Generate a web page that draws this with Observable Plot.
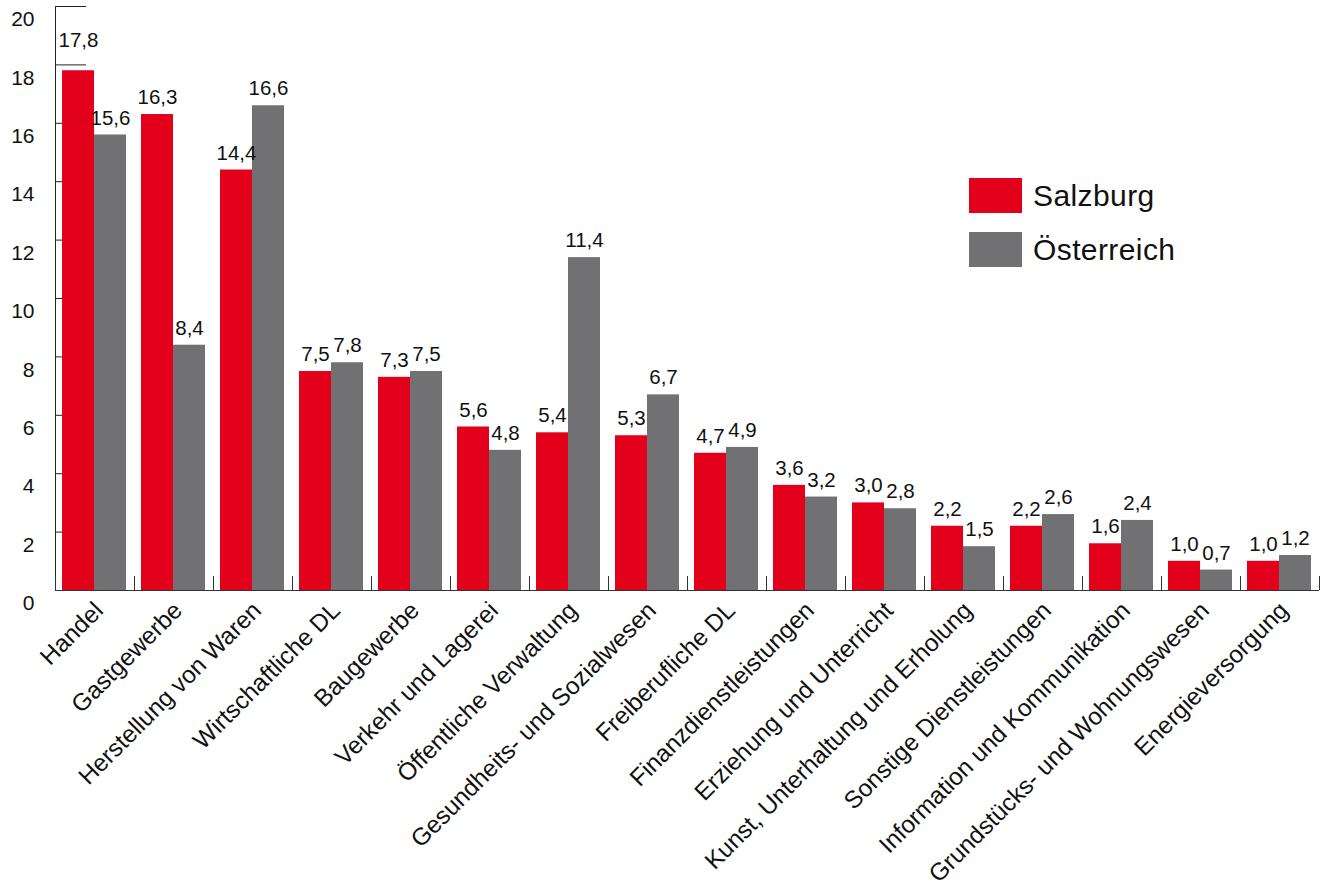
<!DOCTYPE html>
<html>
<head>
<meta charset="utf-8">
<script src="https://cdn.jsdelivr.net/npm/d3@7"></script>
<script src="https://cdn.jsdelivr.net/npm/@observablehq/plot@0.6"></script>
<style>
  html, body { margin: 0; padding: 0; background: #fff; }
  #wrap { position: relative; width: 1323px; height: 890px; font-family: "Liberation Sans", Arial, Helvetica, sans-serif; }
  #wrap svg { position: absolute; left: 0; top: 0; }
  .legend { position: absolute; left: 969px; top: 178px; }
  .legend .item { display: flex; align-items: center; height: 35px; margin-bottom: 19px; }
  .legend .sw { width: 53px; height: 35px; margin-right: 11px; }
  .legend .lab { font-size: 30px; color: #111; letter-spacing: 0.4px; }
</style>
</head>
<body>
<div id="wrap"></div>
<script>
const categories = [
  "Handel", "Gastgewerbe", "Herstellung von Waren", "Wirtschaftliche DL", "Baugewerbe",
  "Verkehr und Lagerei", "Öffentliche Verwaltung", "Gesundheits- und Sozialwesen",
  "Freiberufliche DL", "Finanzdienstleistungen", "Erziehung und Unterricht",
  "Kunst, Unterhaltung und Erholung", "Sonstige Dienstleistungen",
  "Information und Kommunikation", "Grundstücks- und Wohnungswesen", "Energieversorgung"
];
const salzburg = [17.8, 16.3, 14.4, 7.5, 7.3, 5.6, 5.4, 5.3, 4.7, 3.6, 3.0, 2.2, 2.2, 1.6, 1.0, 1.0];
const oesterreich = [15.6, 8.4, 16.6, 7.8, 7.5, 4.8, 11.4, 6.7, 4.9, 3.2, 2.8, 1.5, 2.6, 2.4, 0.7, 1.2];
const seriesNames = ["Salzburg", "Österreich"];
const seriesColors = ["#e2001a", "#717173"];
const yTicks = [0, 2, 4, 6, 8, 10, 12, 14, 16, 18, 20];

const rowsS = categories.map((c, i) => ({cat: c, series: seriesNames[0], value: salzburg[i]}));
const rowsO = categories.map((c, i) => ({cat: c, series: seriesNames[1], value: oesterreich[i]}));
const fmt = v => v.toFixed(1).replace(".", ",");
const FONT = "Liberation Sans, Arial, Helvetica, sans-serif";

const band = (1319 - 55) / categories.length;

const chart = Plot.plot({
  width: 1323,
  height: 890,
  marginTop: 6,
  marginLeft: 55,
  marginRight: 4,
  marginBottom: 300,
  style: {fontFamily: FONT, color: "#111", background: "transparent"},
  x: {type: "band", domain: categories, padding: 0, axis: null, label: null},
  y: {domain: [0, 20], axis: null, label: null},
  marks: [
    // y tick lines (drawn first, covered by bars)
    Plot.tickY(yTicks, {y: d => d, x: () => categories[0], insetRight: band - 31, stroke: "#222", strokeWidth: 1}),
    Plot.barY(rowsS, {x: "cat", y: "value", fill: seriesColors[0], insetLeft: 7, insetRight: band - 39}),
    Plot.barY(rowsO, {x: "cat", y: "value", fill: seriesColors[1], insetLeft: 39, insetRight: band - 71}),
    // axes lines
    Plot.frame({anchor: "left", stroke: "#222"}),
    Plot.ruleY([0], {stroke: "#333"}),
    Plot.axisX({tickSize: -14, text: null, label: null, dx: -band / 2, stroke: "#333"}),
    Plot.axisX({ticks: [categories[categories.length - 1]], tickSize: -14, text: null, label: null, dx: band / 2, stroke: "#333"}),
    // y tick labels
    Plot.axisY({ticks: yTicks, tickSize: 0, tickPadding: 21, dy: 13, fontSize: 21, label: null, tickFormat: d => String(d), fill: "#111"}),
    // value labels
    Plot.text(rowsS.filter(d => d.value < 17), {x: "cat", y: "value", text: d => fmt(d.value), dx: 7 + 16 - band / 2, dy: -17, fontSize: 20.5, fill: "#111"}),
    Plot.text(rowsS.filter(d => d.value >= 17), {x: "cat", y: "value", text: d => fmt(d.value), dx: 7 + 16 - band / 2, dy: -30, fontSize: 20.5, fill: "#111"}),
    Plot.text(rowsO, {x: "cat", y: "value", text: d => fmt(d.value), dx: 39 + 16 - band / 2, dy: -17, fontSize: 20.5, fill: "#111"}),
    // category labels
    Plot.text(categories, {x: d => d, y: () => 0, text: d => d, rotate: -45, textAnchor: "end", lineAnchor: "middle", dx: 4, dy: 16, fontSize: 24.3, fill: "#111"})
  ]
});

const wrap = document.getElementById("wrap");
wrap.appendChild(chart);

const legend = document.createElement("div");
legend.className = "legend";
seriesNames.forEach((name, i) => {
  const item = document.createElement("div");
  item.className = "item";
  const sw = document.createElement("div");
  sw.className = "sw";
  sw.style.background = seriesColors[i];
  const lab = document.createElement("span");
  lab.className = "lab";
  lab.textContent = name;
  item.appendChild(sw);
  item.appendChild(lab);
  legend.appendChild(item);
});
wrap.appendChild(legend);
</script>
</body>
</html>
